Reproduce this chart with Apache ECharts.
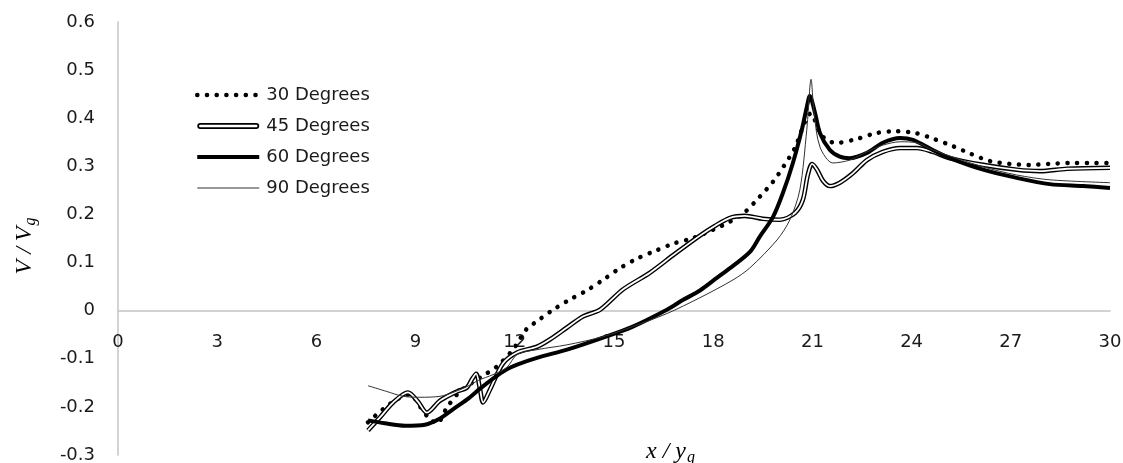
<!DOCTYPE html>
<html>
<head>
<meta charset="utf-8">
<script src="https://cdn.jsdelivr.net/npm/echarts@6/dist/echarts.min.js"></script>
<style>
  html, body { margin: 0; padding: 0; background: #fff; }
  #chart { width: 1123px; height: 463px; }
</style>
</head>
<body>
<div id="chart"></div>
<script>
  // values
  var xTicks = [0, 3, 6, 9, 12, 15, 18, 21, 24, 27, 30]
  var yTicks = [-0.3, -0.2, -0.1, 0, 0.1, 0.2, 0.3, 0.4, 0.5, 0.6]
  var seriesNames = ['30 Degrees', '45 Degrees', '60 Degrees', '90 Degrees']

  var deg30X = [7.56, 8.01, 8.47, 8.83, 9.13, 9.43, 9.65, 9.95, 10.34, 10.95, 11.46, 11.94, 12.37, 12.61, 13.12, 13.61, 14.15, 14.67, 15.15, 15.69, 16.24, 16.78, 17.39, 17.99, 18.51, 18.96, 19.41, 19.81, 20.14, 20.47, 20.68, 20.86, 20.95, 21.23, 21.47, 21.74, 22.35, 22.92, 23.53, 24.13, 24.67, 25.25, 25.79, 26.37, 26.97, 27.55, 28.15, 28.76, 29.36, 30]
  var deg30Y = [-0.232, -0.205, -0.183, -0.174, -0.199, -0.226, -0.234, -0.201, -0.168, -0.139, -0.116, -0.081, -0.037, -0.025, 0, 0.021, 0.041, 0.064, 0.087, 0.108, 0.124, 0.139, 0.151, 0.168, 0.185, 0.205, 0.237, 0.268, 0.301, 0.338, 0.376, 0.405, 0.41, 0.369, 0.353, 0.349, 0.357, 0.369, 0.373, 0.369, 0.357, 0.342, 0.326, 0.311, 0.305, 0.303, 0.305, 0.307, 0.307, 0.307]

  var deg45X = [7.56, 7.92, 8.32, 8.77, 9.07, 9.34, 9.74, 10.25, 10.55, 10.70, 10.83, 10.95, 11.04, 11.25, 11.64, 12.07, 12.67, 13.06, 13.58, 14.06, 14.58, 15.27, 16.09, 16.84, 17.60, 18.05, 18.51, 18.96, 19.50, 20.02, 20.47, 20.71, 20.86, 20.99, 21.14, 21.32, 21.53, 21.83, 22.23, 22.65, 23.13, 23.65, 24.16, 24.64, 25.16, 26.16, 27.18, 27.88, 28.70, 30]
  var deg45Y = [-0.249, -0.222, -0.191, -0.170, -0.189, -0.212, -0.187, -0.168, -0.160, -0.143, -0.131, -0.164, -0.191, -0.164, -0.110, -0.087, -0.075, -0.060, -0.035, -0.012, 0.002, 0.044, 0.079, 0.118, 0.156, 0.176, 0.193, 0.197, 0.191, 0.189, 0.203, 0.230, 0.282, 0.305, 0.293, 0.270, 0.259, 0.266, 0.286, 0.313, 0.330, 0.338, 0.338, 0.330, 0.317, 0.303, 0.293, 0.290, 0.295, 0.297]

  var deg60X = [7.56, 8.07, 8.68, 9.28, 9.74, 10.13, 10.55, 10.95, 11.34, 11.76, 12.07, 12.67, 13.58, 14.67, 15.57, 16.60, 17.08, 17.60, 18.11, 18.60, 19.11, 19.41, 19.81, 20.11, 20.41, 20.68, 20.83, 20.92, 21.08, 21.23, 21.53, 21.83, 22.13, 22.65, 23.13, 23.65, 24.04, 24.64, 25.16, 26.16, 27.18, 28.18, 29.18, 30]
  var deg60Y = [-0.228, -0.234, -0.239, -0.237, -0.224, -0.205, -0.185, -0.162, -0.141, -0.122, -0.112, -0.098, -0.081, -0.056, -0.033, 0.002, 0.022, 0.042, 0.068, 0.093, 0.122, 0.154, 0.195, 0.245, 0.307, 0.376, 0.423, 0.446, 0.411, 0.369, 0.334, 0.320, 0.317, 0.328, 0.349, 0.359, 0.355, 0.334, 0.317, 0.293, 0.276, 0.263, 0.259, 0.255]

  var deg90X = [7.56, 8.13, 8.62, 9.13, 9.74, 10.13, 10.55, 10.89, 11.34, 11.76, 12.07, 12.67, 13.58, 14.67, 15.57, 16.60, 17.60, 18.60, 19.11, 19.93, 20.32, 20.62, 20.83, 20.96, 21.05, 21.23, 21.62, 22.13, 22.65, 23.13, 23.65, 24.16, 24.64, 26.16, 27.18, 28.18, 30]
  var deg90Y = [-0.156, -0.168, -0.178, -0.180, -0.178, -0.170, -0.158, -0.145, -0.133, -0.118, -0.091, -0.081, -0.071, -0.054, -0.033, -0.006, 0.027, 0.064, 0.089, 0.147, 0.189, 0.251, 0.376, 0.481, 0.411, 0.340, 0.307, 0.313, 0.330, 0.344, 0.351, 0.349, 0.334, 0.299, 0.282, 0.272, 0.266]

  function pairs (xs, ys) {
    return xs.map(function (x, i) { return [x, ys[i]] })
  }

  var labelFont = 'DejaVu Sans'
  var axisColor = '#c4c4c4'
  var gridTop = 22
  var gridBottom = 8
  var plotHeight = 463 - gridTop - gridBottom
  var yMin = yTicks[0]
  var yMax = yTicks[yTicks.length - 1]
  // lift the x axis from the bottom edge up to where y = 0
  var xAxisLift = -Math.round(plotHeight * (0 - yMin) / (yMax - yMin))

  var mathStyle = {
    m: { fontFamily: 'Liberation Serif', fontStyle: 'italic', fontSize: 24, color: '#333', lineHeight: 26 },
    s: { fontFamily: 'Liberation Serif', fontStyle: 'italic', fontSize: 16, color: '#333', padding: [12, 0, 0, 1] }
  }

  var chart = echarts.init(document.getElementById('chart'))
  var option = {
    animation: false,
    backgroundColor: '#fff',
    grid: { left: 118, right: 13, top: gridTop, bottom: gridBottom, containLabel: false, outerBoundsMode: 'none' },
    legend: {
      orient: 'vertical',
      left: 190,
      top: 81,
      itemWidth: 62,
      itemHeight: 14,
      itemGap: 13,
      selectedMode: false,
      symbolKeepAspect: true,
      lineStyle: { width: 'inherit' },
      // hide the marker the line legend puts in the middle
      itemStyle: { opacity: 0 },
      textStyle: { fontFamily: labelFont, fontSize: 18, color: '#1a1a1a', padding: [0, 0, 0, 2] },
      data: [
        { name: seriesNames[0] },
        {
          name: seriesNames[1],
          icon: 'path://M3,0H59A3,3,0,0,1,59,6H3A3,3,0,0,1,3,0Z M3,1.8A1.2,1.2,0,0,0,3,4.2H59A1.2,1.2,0,0,0,59,1.8Z',
          itemStyle: { color: '#000', borderWidth: 0, opacity: 1 }
        },
        { name: seriesNames[2] },
        { name: seriesNames[3] }
      ]
    },
    xAxis: {
      type: 'value',
      position: 'bottom',
      offset: xAxisLift,
      min: xTicks[0],
      max: xTicks[xTicks.length - 1],
      interval: 3,
      axisLine: { show: true, onZero: false, lineStyle: { color: axisColor, width: 1.5 } },
      axisTick: { show: false },
      splitLine: { show: false },
      axisLabel: { margin: 22, fontFamily: labelFont, fontSize: 18, color: '#1a1a1a' }
    },
    yAxis: {
      type: 'value',
      min: yMin,
      max: yMax,
      interval: 0.1,
      axisLine: { show: true, onZero: false, lineStyle: { color: axisColor, width: 1.5 } },
      axisTick: { show: false },
      splitLine: { show: false },
      axisLabel: {
        margin: 23,
        fontFamily: labelFont,
        fontSize: 18,
        color: '#1a1a1a',
        formatter: function (v) {
          var r = Math.round(v * 10) / 10
          return r === 0 ? '0' : r.toFixed(1)
        }
      }
    },
    graphic: [
      {
        type: 'text',
        x: 646,
        y: 452,
        style: { text: '{m|x / y}{s|g}', verticalAlign: 'middle', rich: mathStyle }
      },
      {
        type: 'text',
        x: 25,
        y: 246,
        rotation: Math.PI / 2,
        style: { text: '{m|V / V}{s|g}', align: 'center', verticalAlign: 'middle', rich: mathStyle }
      }
    ],
    series: [
      {
        name: seriesNames[0],
        type: 'line',
        data: pairs(deg30X, deg30Y),
        smooth: 0.3,
        symbol: 'none',
        z: 2,
        color: '#000',
        lineStyle: { color: '#000', width: 4.5, type: [0.1, 9.6], cap: 'round' }
      },
      {
        name: seriesNames[1],
        type: 'line',
        data: pairs(deg45X, deg45Y),
        smooth: 0.3,
        symbol: 'none',
        z: 3,
        color: '#000',
        lineStyle: { color: '#000', width: 4.6 }
      },
      {
        name: '45 inner',
        type: 'line',
        data: pairs(deg45X, deg45Y),
        smooth: 0.3,
        symbol: 'none',
        z: 4,
        color: '#fff',
        lineStyle: { color: '#fff', width: 1.8 }
      },
      {
        name: seriesNames[2],
        type: 'line',
        data: pairs(deg60X, deg60Y),
        smooth: 0.3,
        symbol: 'none',
        z: 5,
        color: '#000',
        lineStyle: { color: '#000', width: 4 }
      },
      {
        name: seriesNames[3],
        type: 'line',
        data: pairs(deg90X, deg90Y),
        smooth: 0.3,
        symbol: 'none',
        z: 6,
        color: '#333',
        lineStyle: { color: '#333', width: 1 }
      }
    ]
  }
  chart.setOption(option)
</script>
</body>
</html>
